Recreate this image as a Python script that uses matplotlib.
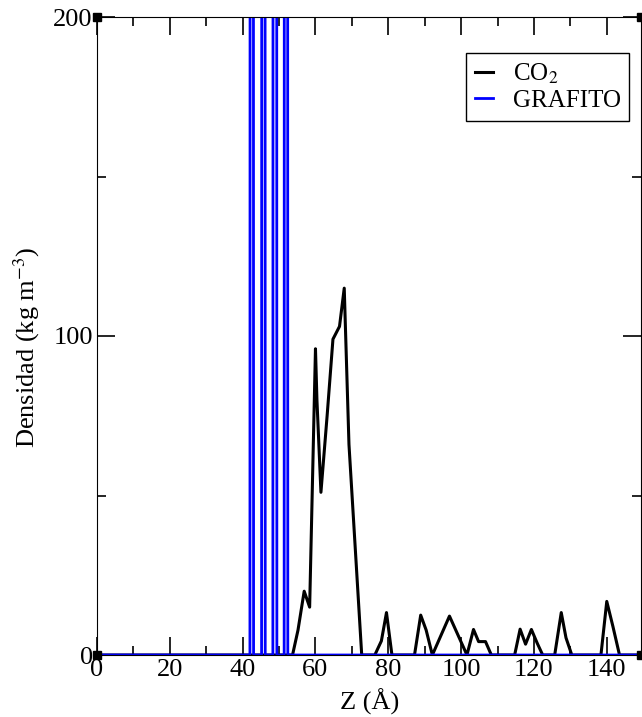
import matplotlib
matplotlib.use("Agg")
import matplotlib.pyplot as plt
from matplotlib.ticker import MultipleLocator

# Perfil de densidad del CO2 (kg m^-3) frente a Z (Å)
z_co2 = [0, 53.7, 55.2, 56.9, 58.4, 60.0, 60.4, 61.5, 63.2, 64.8, 66.6, 67.9, 69.2, 72.7,
         76.3, 78.1, 79.5, 81.0, 87.2, 88.9, 90.4, 92.1, 96.8, 101.6, 103.4, 104.8,
         106.7, 108.3, 114.7, 116.2, 117.7, 119.3, 120.9, 122.4, 125.7, 127.5, 128.8,
         130.4, 138.4, 140.0, 141.7, 143.5, 150]
dens_co2 = [0, 0, 7.8, 20, 15, 96, 80, 51, 75, 99, 103, 115, 66, 0,
            0, 4.4, 13.3, 0, 0, 12.5, 7.8, 0, 12.2, 0, 8, 4.2,
            4.2, 0, 0, 8.1, 3.4, 8, 3.7, 0, 0, 13.3, 5.4,
            0, 0, 16.8, 8.9, 0, 0]

# Capas de grafito (picos muy altos, fuera de escala)
z_graf = [0, 42.0, 42.5, 43.0, 45.2, 45.7, 46.2, 48.3, 48.85, 49.4, 51.4, 51.9, 52.4, 150]
dens_graf = [0, 0, 3000, 0, 0, 3000, 0, 0, 3000, 0, 0, 3000, 0, 0]

plt.rcParams['font.family'] = ['Liberation Serif', 'DejaVu Serif']
plt.rcParams['mathtext.fontset'] = 'stix'

fig = plt.figure(figsize=(6.42, 7.17), dpi=100)
ax = fig.add_axes([97 / 642, 62 / 717, 545 / 642 - 0.001, 638 / 717])

ax.plot(z_co2, dens_co2, color='black', linewidth=2.2, label='CO$_2$')
ax.plot(z_graf, dens_graf, color='blue', linewidth=2.0, label='GRAFITO')

ax.set_xlim(0, 149.5)
ax.set_ylim(0, 200)
ax.xaxis.set_major_locator(MultipleLocator(20))
ax.xaxis.set_minor_locator(MultipleLocator(10))
ax.yaxis.set_major_locator(MultipleLocator(100))
ax.yaxis.set_minor_locator(MultipleLocator(50))
ax.tick_params(which='both', direction='in', top=True, right=True, labelsize=19, width=1.2)
ax.tick_params(which='major', length=13, pad=3)
ax.tick_params(which='minor', length=6.5)

ax.set_xlabel('Z (Å)', fontsize=19, labelpad=5)
ax.set_ylabel('Densidad (kg m$^{-3}$)', fontsize=19)
ax.yaxis.set_label_coords(-0.101, 0.483)

leg = ax.legend(loc='upper right', bbox_to_anchor=(0.978, 0.944), borderaxespad=0,
                fontsize=18, handlelength=0.7, handletextpad=0.8, borderpad=0.35,
                labelspacing=0.15, fancybox=False, framealpha=1, edgecolor='black')
leg.get_frame().set_linewidth(1.0)

# marcadores de esquina
ax.plot([0, 0, 149.5, 149.5], [0, 200, 200, 0], linestyle='none', marker='s', markersize=6,
        color='black', clip_on=False, zorder=5)

fig.savefig('out.png', dpi=100)
